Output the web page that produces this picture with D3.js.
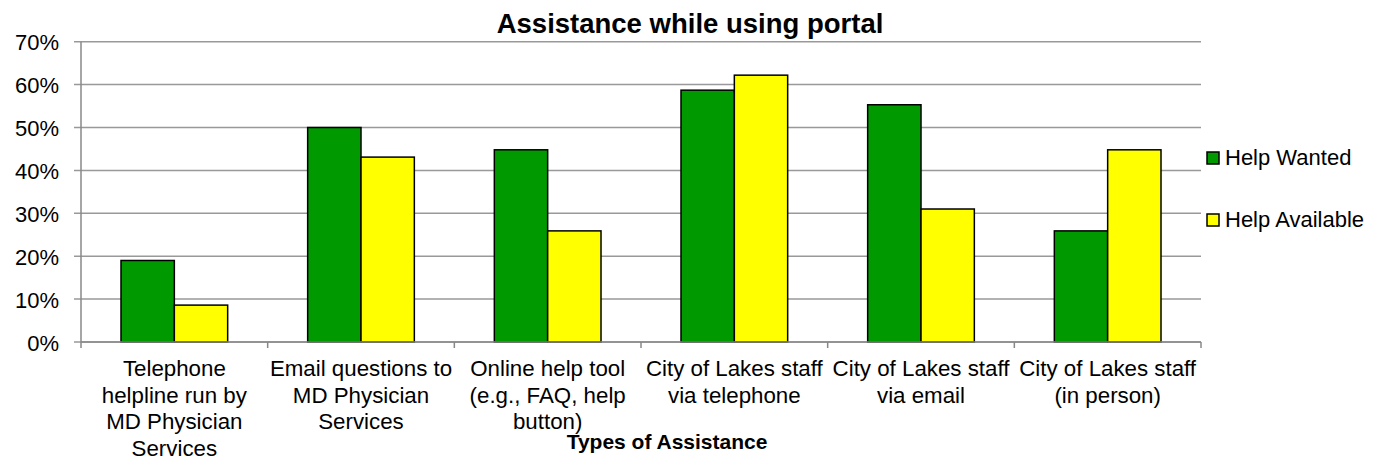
<!DOCTYPE html>
<html>
<head>
<meta charset="utf-8">
<script src="https://cdn.jsdelivr.net/npm/d3@7"></script>
<style>
  html, body { margin: 0; padding: 0; background: #fff; }
  svg { display: block; font-family: "Liberation Sans", Arial, sans-serif; }
</style>
</head>
<body>
<svg id="chart" width="1382" height="463"></svg>
<script>
const categories = [
  ["Telephone", "helpline run by", "MD Physician", "Services"],
  ["Email questions to", "MD Physician", "Services"],
  ["Online help tool", "(e.g., FAQ, help", "button)"],
  ["City of Lakes staff", "via telephone"],
  ["City of Lakes staff", "via email"],
  ["City of Lakes staff", "(in person)"]
];
const seriesNames = ["Help Wanted", "Help Available"];
const helpWanted = [0.19, 0.50, 0.448, 0.587, 0.553, 0.259];
const helpAvailable = [0.086, 0.431, 0.259, 0.622, 0.31, 0.448];
const yTicks = [0, 0.1, 0.2, 0.3, 0.4, 0.5, 0.6, 0.7];
const colors = ["#009900", "#FFFF00"];
const title = "Assistance while using portal";
const xTitle = "Types of Assistance";

(function () {
const svg = d3.select("#chart");
const pLeft = 81, pRight = 1201, pTop = 41.7, pBottom = 342;

const x = d3.scaleBand().domain(d3.range(categories.length)).range([pLeft, pRight]).paddingInner(0).paddingOuter(0);
const y = d3.scaleLinear().domain([0, 0.7]).range([pBottom, pTop]);
const barW = x.bandwidth() / 3.5;
const gap = x.bandwidth() * 0.75 / 3.5;
const xs = d3.scaleBand().domain([0, 1]).range([gap, gap + 2 * barW]);

// gridlines
svg.append("g").selectAll("line").data(yTicks).join("line")
  .attr("x1", pLeft - 7).attr("x2", pRight)
  .attr("y1", d => y(d)).attr("y2", d => y(d))
  .attr("stroke", "#999").attr("stroke-width", 1.5);

// y labels
svg.append("g").selectAll("text").data(yTicks).join("text")
  .attr("x", 59).attr("y", d => y(d) + 8.5)
  .attr("text-anchor", "end").attr("font-size", 22).attr("fill", "#000")
  .text(d => d3.format(".0%")(d));

// y axis line
svg.append("line").attr("x1", pLeft).attr("x2", pLeft).attr("y1", pTop).attr("y2", pBottom)
  .attr("stroke", "#888").attr("stroke-width", 1.5);

// bars
const data = [helpWanted, helpAvailable];
const groups = svg.append("g").selectAll("g").data(categories.map((c, i) => i)).join("g")
  .attr("transform", i => `translate(${x(i)},0)`);
groups.selectAll("rect").data(i => data.map((s, k) => ({k, v: s[i]}))).join("rect")
  .attr("x", d => xs(d.k)).attr("width", barW)
  .attr("y", d => y(d.v)).attr("height", d => y(0) - y(d.v))
  .attr("fill", d => colors[d.k]).attr("stroke", "#000").attr("stroke-width", 1.5);

// x axis line and ticks
svg.append("line").attr("x1", pLeft).attr("x2", pRight).attr("y1", pBottom).attr("y2", pBottom)
  .attr("stroke", "#888").attr("stroke-width", 1.5);
svg.append("g").selectAll("line").data(d3.range(categories.length + 1)).join("line")
  .attr("x1", i => pLeft + i * x.step()).attr("x2", i => pLeft + i * x.step())
  .attr("y1", pBottom).attr("y2", pBottom + 6)
  .attr("stroke", "#888").attr("stroke-width", 1.5);

// category labels
const catG = svg.append("g").selectAll("text").data(categories).join("text")
  .attr("text-anchor", "middle").attr("font-size", 22.3).attr("fill", "#000");
catG.each(function(lines, i) {
  d3.select(this).selectAll("tspan").data(lines).join("tspan")
    .attr("x", x(i) + x.bandwidth() / 2)
    .attr("y", (d, j) => 376 + j * 26.5)
    .text(d => d);
});

// titles
svg.append("text").attr("x", 690).attr("y", 33).attr("text-anchor", "middle")
  .attr("font-size", 27.5).attr("font-weight", "bold").text(title);
svg.append("text").attr("x", 667).attr("y", 449).attr("text-anchor", "middle")
  .attr("font-size", 21).attr("font-weight", "bold").text(xTitle);

// legend
const leg = svg.append("g").selectAll("g").data(seriesNames).join("g")
  .attr("transform", (d, i) => `translate(1207,${152 + i * 62})`);
leg.append("rect").attr("width", 12).attr("height", 12)
  .attr("fill", (d, i) => colors[i]).attr("stroke", "#000").attr("stroke-width", 1.5);
leg.append("text").attr("x", 18).attr("y", 13).attr("font-size", 22).text(d => d);
})();
</script>
</body>
</html>
